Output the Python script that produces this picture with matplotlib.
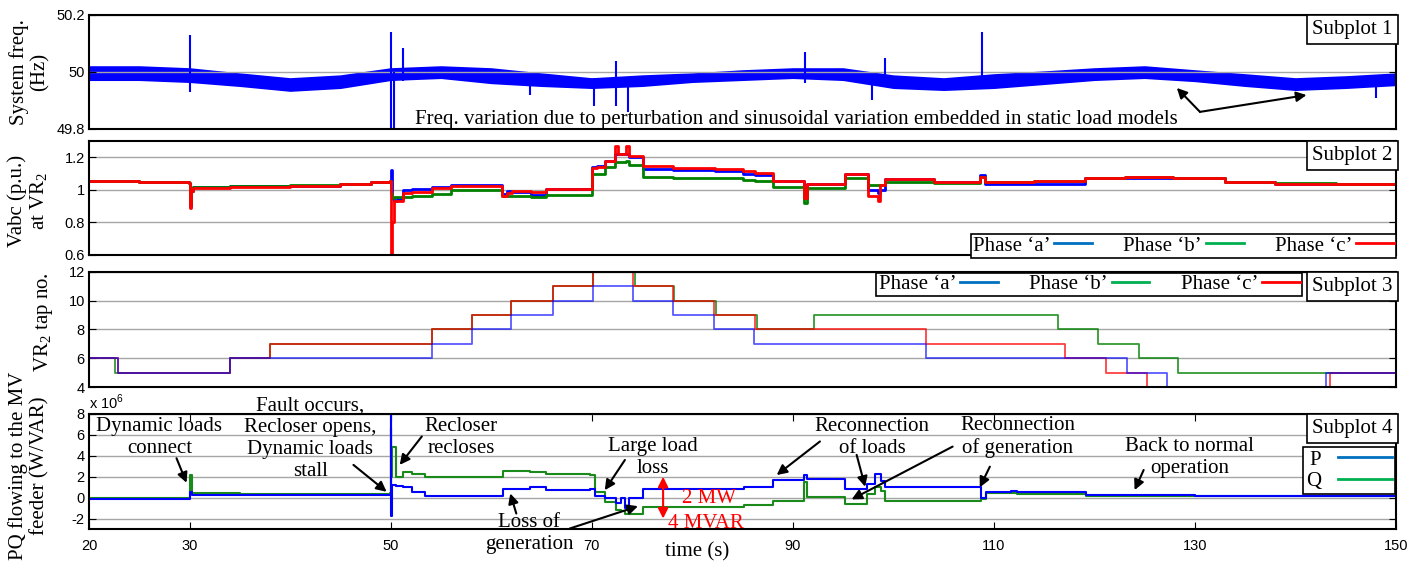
import numpy as np
import matplotlib.pyplot as plt
from matplotlib.lines import Line2D

plt.rcParams['font.family'] = 'Liberation Serif'
plt.rcParams['mathtext.fontset'] = 'custom'
plt.rcParams['mathtext.rm'] = 'Liberation Serif'
plt.rcParams['mathtext.sf'] = 'Liberation Sans'
plt.rcParams['axes.unicode_minus'] = False

# ---- Subplot 1: system frequency (band envelope + spikes), Hz
freq_t = [20, 25, 30, 35, 40, 45, 50, 55, 60, 65, 70, 75, 80, 85, 90,
          95, 100, 105, 110, 115, 120, 125, 130, 135, 140, 145, 150]
freq_hi = [50.022, 50.022, 50.015, 49.997, 49.980, 49.990, 50.015, 50.022, 50.015,
           49.997, 49.980, 49.990, 49.997, 50.008, 50.015, 50.015, 49.990, 49.980,
           49.994, 50.004, 50.015, 50.022, 50.008, 49.994, 49.980, 49.987, 49.997]
freq_lo = [49.970, 49.970, 49.963, 49.949, 49.932, 49.942, 49.970, 49.977, 49.959,
           49.949, 49.942, 49.949, 49.963, 49.970, 49.977, 49.970, 49.942, 49.935,
           49.942, 49.956, 49.970, 49.977, 49.966, 49.949, 49.935, 49.942, 49.952]
spike_t = [30.0, 50.0, 50.3, 51.2, 63.9, 70.2, 72.4, 73.6, 91.2, 97.9, 99.2, 108.8, 148.0]
spike_lo = [49.93, 49.78, 49.78, 49.97, 49.92, 49.88, 49.88, 49.86, 49.96, 49.90, 49.96, 49.96, 49.91]
spike_hi = [50.13, 50.14, 50.00, 50.085, 49.98, 49.98, 50.04, 49.98, 50.07, 49.98, 50.05, 50.14, 49.98]

# ---- Subplot 2: Vabc at VR2 (p.u.), step-held samples
v_t = [20, 25, 29.9, 30.0, 30.15, 30.3, 34, 40, 45, 48, 49.95, 50.0, 50.1, 50.3,
       50.6, 51.2, 52.1, 54.1, 56, 61.1, 61.6, 62.1, 64, 65.5, 70, 70.5, 71.3,
       72.3, 72.6, 73.4, 73.7, 75.1, 78.1, 82.3, 85, 86.2, 88, 91.1, 91.4, 95.2,
       97.5, 98.5, 98.7, 99.2, 104, 108.6, 109.1, 114, 119.1, 123, 127.8, 133,
       138, 144, 150]
va = [1.052, 1.048, 1.044, 0.90, 0.99, 1.015, 1.022, 1.025, 1.035, 1.05, 1.052,
      1.12, 0.95, 0.93, 0.945, 1.0, 1.005, 1.02, 1.028, 0.975, 0.99, 0.985, 0.97,
      1.008, 1.14, 1.145, 1.18, 1.22, 1.22, 1.22, 1.20, 1.125, 1.12, 1.115, 1.10,
      1.09, 1.054, 0.95, 1.033, 1.095, 1.00, 0.98, 0.996, 1.065, 1.05, 1.09, 1.033,
      1.038, 1.072, 1.075, 1.07, 1.05, 1.035, 1.035, 1.044]
vb = [1.052, 1.046, 1.044, 0.92, 0.99, 1.015, 1.022, 1.028, 1.035, 1.05, 1.052,
      0.98, 0.95, 0.955, 0.955, 0.955, 0.96, 0.975, 0.997, 0.965, 0.962, 0.962,
      0.958, 0.97, 1.097, 1.10, 1.138, 1.17, 1.17, 1.18, 1.15, 1.078, 1.075, 1.07,
      1.06, 1.055, 1.017, 0.92, 1.013, 1.075, 1.03, 1.03, 1.03, 1.05, 1.045, 1.08,
      1.048, 1.052, 1.072, 1.078, 1.07, 1.05, 1.04, 1.038, 1.044]
vc = [1.052, 1.046, 1.044, 0.89, 0.99, 1.01, 1.02, 1.024, 1.035, 1.05, 1.052,
      0.60, 0.80, 0.93, 0.93, 0.98, 0.985, 1.01, 1.023, 0.962, 0.98, 0.99, 0.985,
      1.005, 1.137, 1.14, 1.18, 1.27, 1.22, 1.27, 1.21, 1.145, 1.134, 1.13, 1.115,
      1.105, 1.054, 0.95, 1.033, 1.095, 0.96, 0.93, 1.03, 1.065, 1.048, 1.08, 1.048,
      1.052, 1.072, 1.078, 1.07, 1.05, 1.035, 1.033, 1.044]

# ---- Subplot 3: VR2 tap positions
tap_a_t = [20, 22.9, 34.0, 54.1, 58.1, 62.0, 66.1, 70.1, 74.1, 78.1, 82.2, 86.1,
           103.3, 123.2, 127.2, 143.0, 150]
tap_a = [6, 5, 6, 7, 8, 9, 10, 11, 10, 9, 8, 7, 6, 5, 4, 5, 5]
tap_b_t = [20, 22.6, 34.0, 38.0, 54.1, 58.1, 62.0, 66.1, 70.1, 74.3, 78.2, 82.4,
           86.4, 92.1, 116.4, 120.4, 124.4, 128.3, 150]
tap_b = [6, 5, 6, 7, 8, 9, 10, 11, 12, 11, 10, 9, 8, 9, 8, 7, 6, 5, 5]
tap_c_t = [20, 22.9, 34.0, 38.0, 54.1, 58.1, 62.0, 66.1, 70.1, 74.1, 78.1, 82.2,
           86.2, 103.3, 117.1, 121.2, 125.2, 143.4, 150]
tap_c = [6, 5, 6, 7, 8, 9, 10, 11, 12, 11, 10, 9, 8, 7, 6, 5, 4, 5, 5]

# ---- Subplot 4: P and Q into MV feeder (x 10^6 W / VAR)
pq_t = [20, 29.95, 30.0, 30.2, 35, 45, 49.95, 50.0, 50.05, 50.15, 50.5, 51.2,
        52.1, 53.4, 59, 61.2, 63.9, 65.5, 69.8, 70.3, 71.3, 72.4, 72.9, 73.3,
        73.7, 75.1, 85.1, 88, 91.1, 91.4, 95.2, 97.4, 98.2, 98.8, 99.2, 104,
        108.7, 109.2, 111.7, 112.3, 119.2, 130, 140, 150]
p_mw = [-0.12, -0.1, 0.5, 0.22, 0.25, 0.25, 0.25, 8.5, -1.8, 1.2, 1.1, 1.0,
        0.5, 0.12, 0.15, 0.8, 1.0, 0.75, 0.8, 0.2, -0.05, -0.5, -0.05, -1.0,
        -0.05, 0.83, 1.0, 1.7, 2.2, 1.75, 0.85, 1.3, 2.3, 1.6, 1.05, 1.05,
        -0.05, 0.55, 0.65, 0.5, 0.25, 0.2, 0.18, 0.2]
q_mvar = [0.0, 0.0, 2.2, 0.45, 0.3, 0.35, 0.4, 6.7, 2.0, 4.8, 2.0, 2.45,
          2.3, 2.0, 2.0, 2.5, 2.45, 2.3, 2.2, 0.5, -0.4, -1.2, -1.3, -1.6,
          -1.6, -0.87, -0.7, -0.33, 1.5, 0.1, -0.6, 0.3, 1.0, 0.6, -0.35, -0.35,
          -0.1, 0.4, 0.4, 0.35, 0.16, 0.15, 0.2, 0.15]

xticks = [20, 30, 50, 70, 90, 110, 130, 150]
FS = 15
GRID = '#a6a6a6'


def style(ax, yt, ylab, ylim):
    ax.set_xlim(20, 150)
    ax.set_ylim(*ylim)
    ax.set_yticks(yt)
    ax.set_yticklabels(ylab)
    ax.set_xticks(xticks)
    ax.grid(axis='y', color=GRID, lw=1)
    ax.tick_params(axis='y', direction='in', right=True, length=5,
                   labelsize=10.5, labelfontfamily='Liberation Sans', pad=3)
    for s in ax.spines.values():
        s.set_linewidth(1.5)


def box_label(ax, txt):
    ax.text(0.9975, 0.955, txt, transform=ax.transAxes, ha='right', va='top',
            fontsize=FS, zorder=10,
            bbox=dict(boxstyle='square,pad=0.25', fc='white', ec='k', lw=1.2))


fig = plt.figure(figsize=(14.2, 5.63), dpi=100)
ax1 = fig.add_axes([0.0627, 0.7709, 0.9204, 0.2025])
ax2 = fig.add_axes([0.0627, 0.5471, 0.9204, 0.2025])
ax3 = fig.add_axes([0.0627, 0.3126, 0.9204, 0.2043])
ax4 = fig.add_axes([0.0627, 0.0604, 0.9204, 0.2043])

# subplot 1
style(ax1, [49.8, 50, 50.2], ['49.8', '50', '50.2'], (49.8, 50.2))
ax1.fill_between(freq_t, freq_lo, freq_hi, color='#0000ff', lw=0)
ax1.vlines(spike_t, spike_lo, spike_hi, color='#0000ff', lw=1.5)
ax1.tick_params(axis='x', length=0, labelbottom=False)
ax1.set_ylabel('System freq.\n(Hz)', fontsize=FS, va='center', linespacing=1.1)
ax1.yaxis.set_label_coords(-0.046, 0.5)
ax1.text(52.4, 49.832, 'Freq. variation due to perturbation and sinusoidal variation '
         'embedded in static load models', fontsize=FS, ha='left', va='center')
for tgt in [(128.2, 49.944), (141.1, 49.919)]:
    ax1.annotate('', xy=tgt, xytext=(130.5, 49.860),
                 arrowprops=dict(arrowstyle='-|>', color='k', lw=1.5,
                                 shrinkA=0, shrinkB=0, mutation_scale=15))
box_label(ax1, 'Subplot 1')

# subplot 2
style(ax2, [0.6, 0.8, 1.0, 1.2], ['0.6', '0.8', '1', '1.2'], (0.6, 1.3))
ax2.plot(v_t, va, color='#0000ff', lw=2, drawstyle='steps-post')
ax2.plot(v_t, vb, color='#008000', lw=2, drawstyle='steps-post')
ax2.plot(v_t, vc, color='#ff0000', lw=2, drawstyle='steps-post')
ax2.tick_params(axis='x', length=0, labelbottom=False)
ax2.set_ylabel('Vabc (p.u.)\nat VR$_\\mathrm{2}$', fontsize=FS, va='center', linespacing=1.1)
ax2.yaxis.set_label_coords(-0.046, 0.47)
leg_handles = [Line2D([], [], color='#0070c0', lw=2),
               Line2D([], [], color='#00b050', lw=2),
               Line2D([], [], color='#ff0000', lw=2)]
phase_labels = ['Phase \u2018a\u2019', 'Phase \u2018b\u2019', 'Phase \u2018c\u2019']
leg_kw = dict(ncol=3, markerfirst=False, fontsize=FS, fancybox=False, edgecolor='k',
              framealpha=1, handlelength=1.8, handletextpad=0.2, columnspacing=1.5,
              borderpad=0.1, borderaxespad=0)
leg2 = ax2.legend(leg_handles, phase_labels, loc='lower right',
                  bbox_to_anchor=(1.0, -0.025), **leg_kw)
leg2.get_frame().set_linewidth(1.2)
box_label(ax2, 'Subplot 2')

# subplot 3
style(ax3, [4, 6, 8, 10, 12], ['4', '6', '8', '10', '12'], (4, 12))
ax3.plot(tap_b_t, tap_b, color='#008000', lw=1.3, alpha=0.8, drawstyle='steps-post')
ax3.plot(tap_c_t, tap_c, color='#ff0000', lw=1.3, alpha=0.75, drawstyle='steps-post')
ax3.plot(tap_a_t, tap_a, color='#0000ff', lw=1.3, alpha=0.65, drawstyle='steps-post')
ax3.tick_params(axis='x', length=0, labelbottom=False)
ax3.set_ylabel('VR$_\\mathrm{2}$ tap no.', fontsize=FS, va='center')
ax3.yaxis.set_label_coords(-0.035, 0.56)
leg3 = ax3.legend(leg_handles, phase_labels, loc='upper right',
                  bbox_to_anchor=(0.928, 0.995), **leg_kw)
leg3.get_frame().set_linewidth(1.2)
box_label(ax3, 'Subplot 3')

# subplot 4
style(ax4, [-2, 0, 2, 4, 6, 8], ['-2', '0', '2', '4', '6', '8'], (-3, 8))
ax4.plot(pq_t, q_mvar, color='#1a8a1a', lw=1.5, drawstyle='steps-post')
ax4.plot(pq_t, p_mw, color='#0000ff', lw=1.5, drawstyle='steps-post')
ax4.tick_params(axis='x', direction='in', top=True, length=5, labelsize=10.5,
                labelfontfamily='Liberation Sans', pad=7)
ax4.set_ylabel('PQ flowing to the MV\nfeeder (W/VAR)', fontsize=FS, va='center',
               linespacing=1.1)
ax4.yaxis.set_label_coords(-0.046, 0.55)
ax4.set_xlabel('time (s)', fontsize=FS, va='center')
ax4.xaxis.set_label_coords(0.465, -0.2)
ax4.text(0.0, 1.02, 'x 10$^\\mathsf{6}$', transform=ax4.transAxes, ha='left',
         va='bottom', fontsize=10.5, family='Liberation Sans')

arrow_kw = dict(arrowstyle='-|>', color='k', lw=1.5, shrinkA=0, shrinkB=0,
                mutation_scale=15)
notes = [
    ('Dynamic loads\nconnect', (27.0, 5.72)),
    ('Fault occurs,\nRecloser opens,\nDynamic loads\nstall', (42.0, 5.64)),
    ('Recloser\nrecloses', (57.0, 5.77)),
    ('Large load\nloss', (76.1, 3.85)),
    ('Loss of\ngeneration', (63.8, -3.41)),
    ('Reconnection\nof loads', (97.9, 5.77)),
    ('Reconnection\nof generation', (112.35, 5.77)),
    ('Back to normal\noperation', (129.5, 3.85)),
]
for txt, pos in notes:
    ax4.text(pos[0], pos[1], txt, fontsize=FS, ha='center', va='center',
             multialignment='center', linespacing=1.2)

arrows = [
    ((28.7, 3.77), (29.7, 1.42)),
    ((46.3, 3.13), (49.6, 0.56)),
    ((53.1, 5.85), (50.9, 3.13)),
    ((73.3, 3.6), (71.3, 0.71)),
    ((62.5, -1.52), (61.9, 0.40)),
    ((67.8, -2.96), (74.6, -0.82)),
    ((92.7, 5.37), (88.4, 2.16)),
    ((96.35, 4.09), (97.2, 1.04)),
    ((105.9, 4.88), (95.85, -0.17)),
    ((109.6, 2.96), (108.6, 0.98)),
    ((124.9, 2.64), (124.0, 0.72)),
]
for start, end in arrows:
    ax4.annotate('', xy=end, xytext=start, arrowprops=arrow_kw, annotation_clip=False)

ax4.annotate('', xy=(77.1, -2), xytext=(77.1, 2),
             arrowprops=dict(arrowstyle='<|-|>', color='#ff0000', lw=1.5,
                             shrinkA=0, shrinkB=0, mutation_scale=15))
ax4.text(79.0, -0.08, '2 MW', color='#ff0000', fontsize=FS, ha='left', va='center')
ax4.text(77.6, -2.48, '4 MVAR', color='#ff0000', fontsize=FS, ha='left', va='center')

box_label(ax4, 'Subplot 4')
pq_handles = [Line2D([], [], color='#0070c0', lw=2), Line2D([], [], color='#00b050', lw=2)]
leg4 = ax4.legend(pq_handles, ['P', 'Q'], markerfirst=False, loc='upper right',
                  bbox_to_anchor=(0.9992, 0.713), fontsize=FS, fancybox=False,
                  edgecolor='k', framealpha=1, handlelength=2.6, handletextpad=0.8,
                  borderpad=0.15, borderaxespad=0, labelspacing=0.1)
leg4.get_frame().set_linewidth(1.2)

fig.savefig('out.png', dpi=100)
